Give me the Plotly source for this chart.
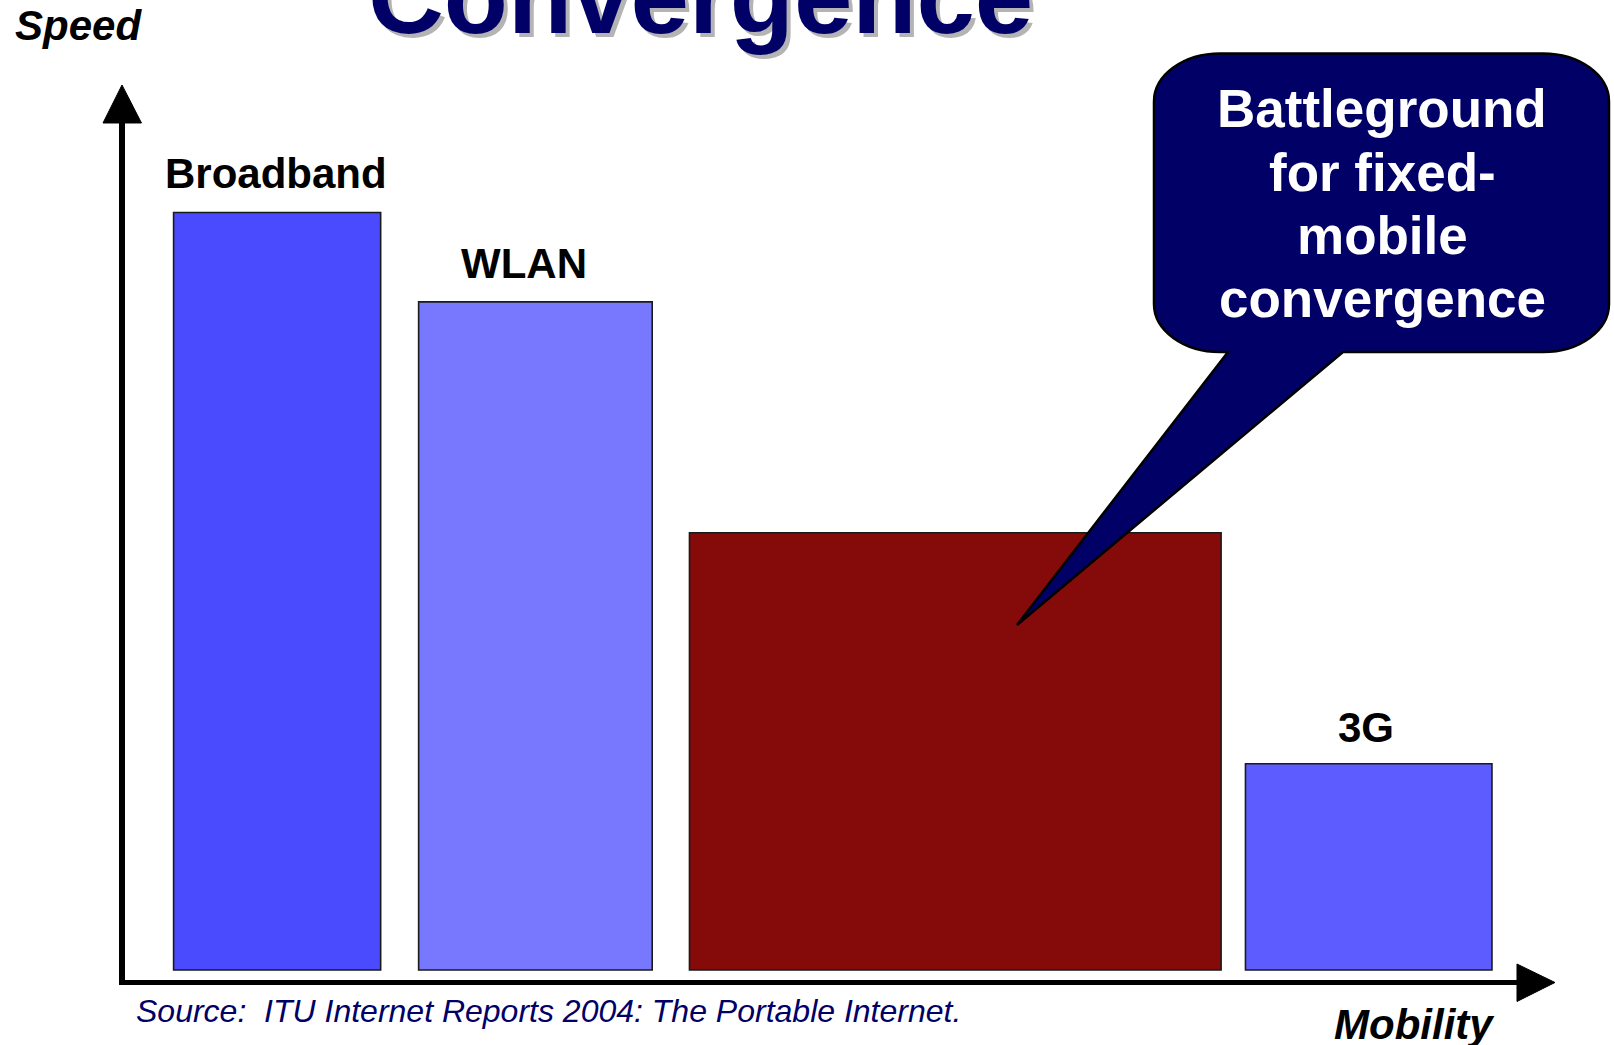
import plotly.graph_objects as go

W, H = 1614, 1045

# ---------------- data (arbitrary units) ----------------
categories = ["Broadband", "WLAN", "Fixed-mobile convergence", "3G"]
speed = [85.6, 75.5, 49.4, 23.3]
mobility_start = [3.6, 20.7, 39.6, 78.4]
mobility_end = [18.05, 37.0, 76.7, 95.6]
bar_labels = ["Broadband", "WLAN", "", "3G"]

title_text = "Convergence"
callout_lines = ["Battleground", "for fixed-", "mobile", "convergence"]
source_text = "Source:  ITU Internet Reports 2004: The Portable Internet."
y_title = "Speed"
x_title = "Mobility"

# ---------------- styles ----------------
bar_colors = ["#4a4aff", "#7878ff", "#850a0a", "#5c5cff"]
label_dx = [-1, -11, 0, -3]
label_dy = [39, 38, 0, 36]
NAVY = "#000066"
FONT = "Liberation Sans, Arial, sans-serif"

# axis calibration (pixel of zero, pixels per unit)
X0_PX, X_SCALE = 122, 14.33
Y0_PX, Y_SCALE = 970, 8.85
x_range = [-X0_PX / X_SCALE, (W - X0_PX) / X_SCALE]
y_range = [(Y0_PX - H) / Y_SCALE, Y0_PX / Y_SCALE]


def px(x):
    return x / W


def py(y):
    return 1 - y / H


def poly(points):
    return "M " + " L ".join(f"{px(x):.5f},{py(y):.5f}" for x, y in points) + " Z"


centers = [(a + b) / 2 for a, b in zip(mobility_start, mobility_end)]
widths = [b - a for a, b in zip(mobility_start, mobility_end)]

fig = go.Figure()
fig.add_trace(go.Bar(
    x=centers, y=speed, width=widths,
    marker=dict(color=bar_colors, line=dict(color="#1a1a1a", width=1.6)),
    hoverinfo="skip", showlegend=False,
))

shapes = []
# y axis with arrow
shapes.append(dict(type="line", xref="paper", yref="paper",
                   x0=px(122), x1=px(122), y0=py(984.5), y1=py(118),
                   line=dict(color="black", width=6)))
shapes.append(dict(type="path", xref="paper", yref="paper",
                   path=poly([(103, 123), (141.5, 123), (122, 85)]),
                   fillcolor="black", line=dict(color="black", width=1)))
# x axis with arrow
shapes.append(dict(type="line", xref="paper", yref="paper",
                   x0=px(119), x1=px(1520), y0=py(982.5), y1=py(982.5),
                   line=dict(color="black", width=5)))
shapes.append(dict(type="path", xref="paper", yref="paper",
                   path=poly([(1517, 964), (1517, 1001.5), (1555, 982.5)]),
                   fillcolor="black", line=dict(color="black", width=1)))

# callout bubble
L, R, T, B = 1154, 1609, 53.5, 352
rx, ry, k = 66, 48, 0.5523
tail_l, tail_r, tip = 1228, 1343, (1017, 625)


def P(x, y):
    return f"{px(x):.5f},{py(y):.5f}"


bubble = (
    f"M {P(L + rx, T)} L {P(R - rx, T)} "
    f"C {P(R - rx + k * rx, T)} {P(R, T + ry - k * ry)} {P(R, T + ry)} "
    f"L {P(R, B - ry)} "
    f"C {P(R, B - ry + k * ry)} {P(R - rx + k * rx, B)} {P(R - rx, B)} "
    f"L {P(tail_r, B)} L {P(*tip)} L {P(tail_l, B)} L {P(L + rx, B)} "
    f"C {P(L + rx - k * rx, B)} {P(L, B - ry + k * ry)} {P(L, B - ry)} "
    f"L {P(L, T + ry)} "
    f"C {P(L, T + ry - k * ry)} {P(L + rx - k * rx, T)} {P(L + rx, T)} Z"
)
shapes.append(dict(type="path", xref="paper", yref="paper", path=bubble,
                   fillcolor=NAVY, line=dict(color="black", width=2.5),
                   layer="above"))

annotations = []
# title with shadow
for dx, col in [(4, "#b4b4b4"), (0, NAVY)]:
    annotations.append(dict(
        text=title_text, xref="paper", yref="paper",
        x=px(700 + dx), y=py(-4 + dx), xanchor="center", yanchor="middle",
        showarrow=False,
        font=dict(family=FONT, size=105, color=col, weight="bold")))

# axis titles
annotations.append(dict(text=y_title, xref="paper", yref="paper",
                        x=px(78), y=py(25), xanchor="center", yanchor="middle",
                        showarrow=False,
                        font=dict(family=FONT, size=42, color="black",
                                  weight="bold", style="italic")))
annotations.append(dict(text=x_title, xref="paper", yref="paper",
                        x=px(1414), y=py(1024), xanchor="center", yanchor="middle",
                        showarrow=False,
                        font=dict(family=FONT, size=42, color="black",
                                  weight="bold", style="italic")))
# source
annotations.append(dict(text=source_text, xref="paper", yref="paper",
                        x=px(134), y=py(1011), xanchor="left", yanchor="middle",
                        showarrow=False,
                        font=dict(family=FONT, size=32, color=NAVY,
                                  style="italic")))

# bar labels
for i, lab in enumerate(bar_labels):
    if lab:
        annotations.append(dict(
            text=lab, xref="x", yref="y", x=centers[i], y=speed[i],
            xanchor="center", yanchor="middle", showarrow=False,
            xshift=label_dx[i], yshift=label_dy[i],
            font=dict(family=FONT, size=42, color="black", weight="bold")))

# callout text
callout_y = [108, 172, 235.5, 299]
for line, yy in zip(callout_lines, callout_y):
    annotations.append(dict(
        text=line, xref="paper", yref="paper", x=px(1382), y=py(yy),
        xanchor="center", yanchor="middle", showarrow=False,
        font=dict(family=FONT, size=53, color="white", weight="bold")))

fig.update_layout(
    width=W, height=H, autosize=False,
    margin=dict(l=0, r=0, t=0, b=0, pad=0),
    paper_bgcolor="white", plot_bgcolor="white",
    showlegend=False,
    xaxis=dict(range=x_range, visible=False, fixedrange=True),
    yaxis=dict(range=y_range, visible=False, fixedrange=True),
    shapes=shapes, annotations=annotations,
)

fig.write_html(
    "out.html",
    config={"displayModeBar": False},
    post_script="document.body.style.margin='0px';document.body.style.overflow='hidden';",
)
